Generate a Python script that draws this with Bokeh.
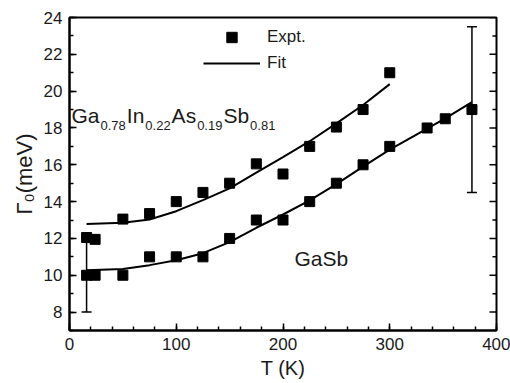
import math
from bokeh.plotting import figure
from bokeh.models import (Range1d, LinearAxis, SingleIntervalTicker, Whisker,
                          ColumnDataSource, Label, Legend, LegendItem, TeeHead, Title)
from bokeh.embed import file_html
from bokeh.resources import INLINE

# ---------------- data ----------------
alloy_T = [16, 24, 50, 75, 100, 125, 150, 175, 200, 225, 250, 275, 300]
alloy_G = [12.05, 11.95, 13.05, 13.35, 14.0, 14.5, 15.0, 16.05, 15.5, 17.0, 18.05, 19.0, 21.0]

gasb_T = [16, 24, 50, 75, 100, 125, 150, 175, 200, 225, 250, 275, 300, 335, 352, 377]
gasb_G = [10.0, 10.0, 10.0, 11.0, 11.0, 11.0, 12.0, 13.0, 13.0, 14.0, 15.0, 16.0, 17.0, 18.0, 18.5, 19.0]

alloy_fit_T = [16, 50, 75, 100, 125, 150, 175, 200, 225, 250, 275, 300]
alloy_fit_G = [12.78, 12.85, 13.03, 13.48, 14.08, 14.72, 15.58, 16.42, 17.28, 18.25, 19.25, 20.38]

gasb_fit_T = [16, 50, 75, 100, 125, 150, 175, 200, 225, 250, 275, 300, 335, 352, 377]
gasb_fit_G = [10.27, 10.34, 10.55, 10.82, 11.2, 11.8, 12.58, 13.3, 14.07, 14.95, 15.9, 16.82, 17.97, 18.52, 19.4]

err_T = [16, 377]
err_lo = [8.0, 14.5]
err_hi = [12.0, 23.5]

x_lim = (0, 400)
y_lim = (7, 24)
y_major_step = 2
y_minor_step = 1

# ---------------- layout ----------------
W, H = 510, 383
BL, BR, BT, BB = 69, 14, 17, 53
FW, FH = W - BL - BR, H - BT - BB
INK = "#1a1a1a"
SANS = "Liberation Sans"


def fx(px):
    return x_lim[0] + (px - BL) * (x_lim[1] - x_lim[0]) / FW


def fy(py):
    return y_lim[1] - (py - BT) * (y_lim[1] - y_lim[0]) / FH


p = figure(width=W, height=H, output_backend="svg", toolbar_location=None,
           x_range=Range1d(*x_lim), y_range=Range1d(*y_lim),
           x_axis_type=None, y_axis_type=None,
           min_border_left=BL, min_border_right=BR,
           min_border_top=BT, min_border_bottom=BB)
p.xgrid.visible = False
p.ygrid.visible = False
p.outline_line_color = "black"
p.outline_line_width = 2
p.background_fill_color = "white"
p.border_fill_color = "white"


def style_axis(ax):
    ax.axis_line_color = "black"
    ax.axis_line_width = 2
    ax.major_tick_in = 7
    ax.major_tick_out = 0
    ax.minor_tick_in = 4
    ax.minor_tick_out = 0
    ax.major_tick_line_width = 1.5
    ax.minor_tick_line_width = 1.5
    ax.major_tick_line_color = "black"
    ax.minor_tick_line_color = "black"
    ax.major_label_text_font = SANS
    ax.major_label_text_color = INK
    ax.major_label_text_font_size = "17px"
    ax.major_label_standoff = 7


xax = LinearAxis(ticker=SingleIntervalTicker(interval=100, num_minor_ticks=5))
style_axis(xax)
xax.axis_label = "T (K)"
xax.axis_label_text_font = SANS
xax.axis_label_text_font_size = "20px"
xax.axis_label_text_font_style = "normal"
xax.axis_label_text_color = INK
xax.axis_label_standoff = 4
p.add_layout(xax, "below")

yax = LinearAxis(ticker=SingleIntervalTicker(interval=y_major_step, num_minor_ticks=2))
style_axis(yax)
p.add_layout(yax, "left")

# y-axis title, placed as a left-side title so it can sit above centre like the reference
p.add_layout(Title(text="Γ₀(meV)", align="center", offset=30, standoff=8,
                   text_font=SANS, text_font_size="22px", text_font_style="normal",
                   text_color=INK), "left")

# right-hand inward ticks (mirror of the left axis, no labels)
tick_major = list(range(y_lim[0] + 1, y_lim[1] + 1, y_major_step))
tick_minor = [v for v in range(y_lim[0], y_lim[1] + 1, y_minor_step) if v not in tick_major]
px_to_x = (x_lim[1] - x_lim[0]) / FW
p.segment(x0=[x_lim[1]] * len(tick_major), x1=[x_lim[1] - 7 * px_to_x] * len(tick_major),
          y0=tick_major, y1=tick_major, line_color="black", line_width=1.5)
p.segment(x0=[x_lim[1]] * len(tick_minor), x1=[x_lim[1] - 4 * px_to_x] * len(tick_minor),
          y0=tick_minor, y1=tick_minor, line_color="black", line_width=1.5)

# ---------------- error bars ----------------
err_src = ColumnDataSource(dict(base=err_T, lower=err_lo, upper=err_hi))
p.add_layout(Whisker(base="base", lower="lower", upper="upper", source=err_src,
                     dimension="height", line_color="black", line_width=1.5,
                     upper_head=TeeHead(size=10, line_color="black", line_width=1.5),
                     lower_head=TeeHead(size=10, line_color="black", line_width=1.5)))

# ---------------- fits and points ----------------
fit1 = p.line(alloy_fit_T, alloy_fit_G, line_color="black", line_width=2)
p.line(gasb_fit_T, gasb_fit_G, line_color="black", line_width=2)
pts1 = p.scatter(alloy_T, alloy_G, marker="square", size=10, fill_color="black", line_color="black")
p.scatter(gasb_T, gasb_G, marker="square", size=10, fill_color="black", line_color="black")

legend = Legend(items=[LegendItem(label="Expt.", renderers=[pts1]),
                       LegendItem(label="Fit", renderers=[fit1])],
                location=(134, 254), orientation="vertical",
                border_line_color=None, background_fill_alpha=0,
                glyph_width=57, glyph_height=26, label_height=26,
                label_standoff=7, padding=0, spacing=0, margin=0,
                label_text_font=SANS, label_text_font_size="17px",
                label_text_color=INK)
p.add_layout(legend)

# ---------------- text annotations ----------------
ADV = {"G": .778, "a": .556, "I": .278, "n": .556, "A": .667, "s": .5,
       "S": .667, "b": .556, ".": .278}
for d in "0123456789":
    ADV[d] = .556

runs = [("Ga", False), ("0.78", True), ("In", False), ("0.22", True),
        ("As", False), ("0.19", True), ("Sb", False), ("0.81", True)]
cx = 71
for txt, sub in runs:
    size = 13 if sub else 21
    base = 125 if sub else 115
    p.add_layout(Label(x=fx(cx), y=fy(base), text=txt, text_font=SANS,
                       text_font_size=f"{size}px", text_color=INK,
                       text_align="left", text_baseline="alphabetic"))
    cx += sum(ADV[c] for c in txt) * size + 1

p.add_layout(Label(x=fx(294), y=fy(258), text="GaSb", text_font=SANS,
                   text_font_size="21px", text_color=INK,
                   text_align="left", text_baseline="alphabetic"))

open("out.html", "w").write(file_html(p, INLINE))
